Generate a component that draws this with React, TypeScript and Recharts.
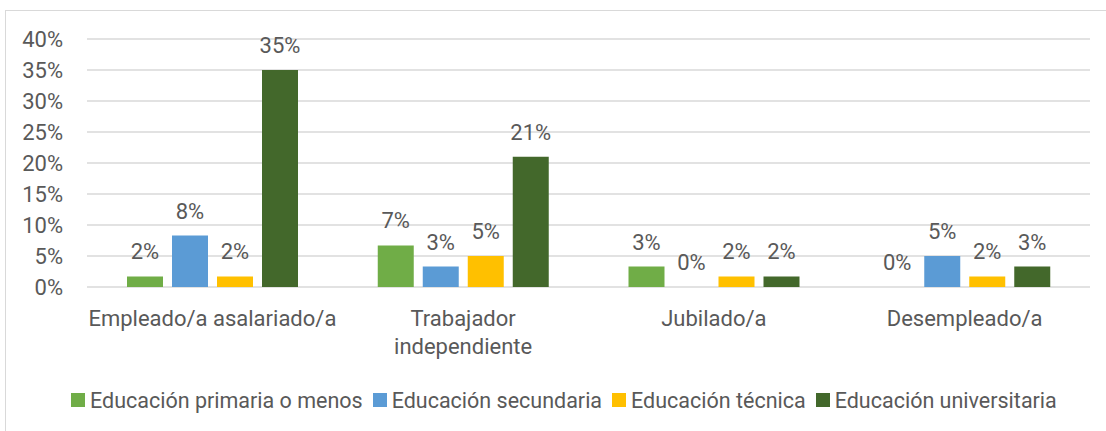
import { BarChart, Bar, XAxis, YAxis, CartesianGrid, LabelList, Legend } from 'recharts'

const categories = ['Empleado/a asalariado/a', 'Trabajador\nindependiente', 'Jubilado/a', 'Desempleado/a']
const primaria = [0.017, 0.067, 0.033, 0]
const secundaria = [0.083, 0.033, 0, 0.05]
const tecnica = [0.017, 0.05, 0.017, 0.017]
const universitaria = [0.35, 0.21, 0.017, 0.033]
const yTicks = [0, 0.05, 0.1, 0.15, 0.2, 0.25, 0.3, 0.35, 0.4]

const series = [
  { key: 'primaria', name: 'Educación primaria o menos', color: '#70AD47' },
  { key: 'secundaria', name: 'Educación secundaria', color: '#5B9BD5' },
  { key: 'tecnica', name: 'Educación técnica', color: '#FFC000' },
  { key: 'universitaria', name: 'Educación universitaria', color: '#43682B' },
]

const data = categories.map((c, i) => ({
  category: c,
  primaria: primaria[i],
  secundaria: secundaria[i],
  tecnica: tecnica[i],
  universitaria: universitaria[i],
}))

const FONT = 'Roboto, sans-serif'
const TEXT = '#595959'
const FS = 22
const pct = (v: number) => `${Math.round(v * 100)}%`

function CategoryTick({ x, y, payload }: any) {
  const lines = String(payload.value).split('\n')
  return (
    <text x={x} y={y} textAnchor="middle" fill={TEXT} fontSize={FS} fontFamily={FONT}>
      {lines.map((l, i) => (
        <tspan key={i} x={x} dy={i === 0 ? 38.5 : 28.5}>
          {l}
        </tspan>
      ))}
    </text>
  )
}

function LegendContent() {
  return (
    <div style={{ display: 'flex', alignItems: 'center', paddingLeft: 71, height: 30, fontFamily: FONT, fontSize: 21.5, color: TEXT }}>
      {series.map((s) => (
        <span key={s.key} style={{ display: 'flex', alignItems: 'center', marginRight: 10 }}>
          <span style={{ width: 14, height: 14, background: s.color, marginRight: 5, display: 'inline-block' }} />
          {s.name}
        </span>
      ))}
    </div>
  )
}

export default function App() {
  return (
    <div style={{ position: 'absolute', left: 0, top: 0, width: 1106, height: 431, background: '#fff' }}>
      <div
        style={{
          position: 'absolute',
          left: 5,
          top: 10,
          right: -10,
          bottom: -10,
          borderTop: '1.5px solid #d9d9d9',
          borderLeft: '1.5px solid #d9d9d9',
        }}
      />
      <BarChart
        width={1106}
        height={431}
        data={data}
        margin={{ top: 39, right: 16, left: 0, bottom: 16 }}
        barSize={36}
        barGap={9}
        style={{ position: 'absolute', left: 0, top: 0, fontFamily: FONT }}
      >
        <CartesianGrid vertical={false} stroke="#d9d9d9" strokeWidth={1.5} />
        <XAxis
          dataKey="category"
          axisLine={false}
          tickLine={false}
          tickSize={0}
          tickMargin={0}
          height={98}
          interval={0}
          tick={<CategoryTick />}
        />
        <YAxis
          domain={[0, 0.4]}
          ticks={yTicks}
          interval={0}
          tickFormatter={pct}
          axisLine={false}
          tickLine={false}
          tickSize={6}
          tickMargin={18}
          width={87}
          tick={{ fill: TEXT, fontSize: FS, fontFamily: FONT }}
        />
        <Legend
          verticalAlign="bottom"
          content={<LegendContent />}
          wrapperStyle={{ left: 0, width: 1106, bottom: 16, height: 30 }}
        />
        {series.map((s) => (
          <Bar
            key={s.key}
            dataKey={s.key}
            name={s.name}
            fill={s.color}
            minPointSize={0.01}
            isAnimationActive={false}
          >
            <LabelList
              dataKey={s.key}
              position="top"
              offset={17}
              formatter={(v: any) => pct(Number(v))}
              fill={TEXT}
              fontSize={FS}
              fontFamily={FONT}
            />
          </Bar>
        ))}
      </BarChart>
    </div>
  )
}
